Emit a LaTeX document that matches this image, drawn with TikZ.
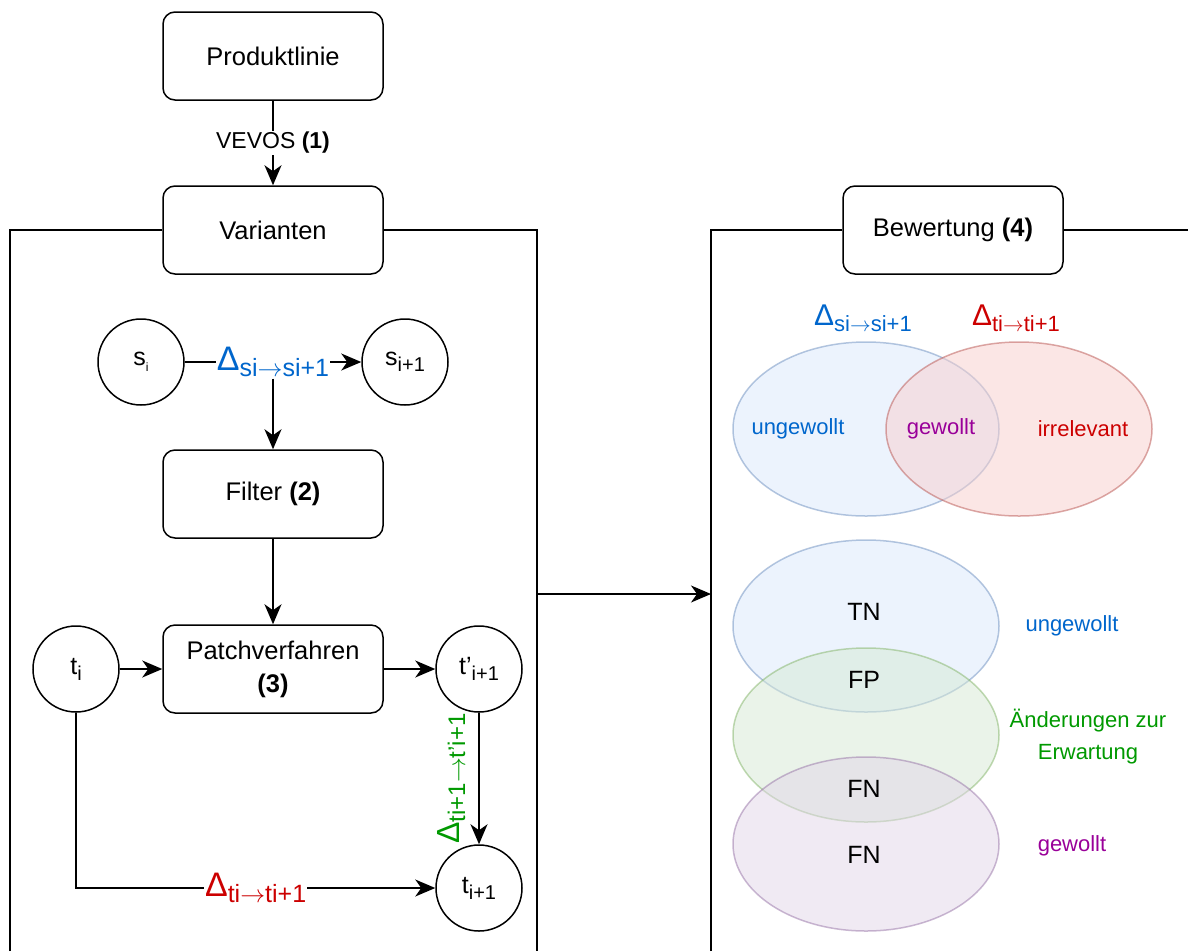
\documentclass[tikz,border=0pt]{standalone}
\usepackage{fontspec}
\setmainfont{Liberation Sans}
\usetikzlibrary{arrows.meta,positioning}

\definecolor{dblue}{HTML}{0066CC}
\definecolor{dred}{HTML}{CC0000}
\definecolor{dgreen}{HTML}{009900}
\definecolor{dpurple}{HTML}{990099}
\definecolor{vblue}{HTML}{DAE8FC}
\definecolor{vbluel}{HTML}{6C8EBF}
\definecolor{vred}{HTML}{F8CECC}
\definecolor{vredl}{HTML}{B85450}
\definecolor{vgreen}{HTML}{D5E8D4}
\definecolor{vgreenl}{HTML}{82B366}
\definecolor{vviolet}{HTML}{E1D5E7}
\definecolor{vvioletl}{HTML}{9673A6}

\newcommand{\pfeil}{$\rightarrow$}
\newcommand{\dlt}[3]{{\fontsize{#1}{#1}\selectfont Δ}\raisebox{-6pt}{\fontsize{#2}{#2}\selectfont #3}}
\newcommand{\vsub}[3]{#1\raisebox{-6pt}{\fontsize{#3}{#3}\selectfont #2}}

\tikzset{
  stepbox/.style={draw, line width=1.5pt, rounded corners=12pt, minimum width=220pt, minimum height=88pt, align=center, font=\fontsize{25.5}{33}\selectfont, fill=white},
  zustand/.style={draw, circle, line width=1.5pt, minimum size=86pt, inner sep=0pt, font=\fontsize{25}{28}\selectfont},
  flow/.style={line width=1.5pt, -{Stealth[length=20pt,width=17pt,inset=6pt]}},
  frame/.style={line width=1.5pt},
  lbl/.style={fill=white, inner sep=1pt},
  venn/.style={line width=1.5pt, opacity=0.5},
  vtext/.style={font=\fontsize{25}{30}\selectfont},
  ctext/.style={font=\fontsize{22}{32}\selectfont},
}

\begin{document}
\begin{tikzpicture}[x=1pt,y=-1pt]
\useasboundingbox (0,0) rectangle (1188,951);

% Varianten erzeugen
\node[stepbox] (produkt) at (273,56) {Produktlinie};
\node[stepbox] (varianten) at (273,230) {Varianten};
\draw[flow] (produkt) -- node[lbl, font=\fontsize{23}{28}\selectfont] {VEVOS \textbf{(1)}} (varianten);
\draw[frame] (10,951) -- (10,230) -- (varianten.west);
\draw[frame] (varianten.east) -- (537,230) -- (537,951);

\node[zustand] (si) at (141,362) {\vsub{s}{i}{12}};
\node[zustand] (snext) at (405,362) {\vsub{s}{i+1}{20}};
\draw[flow] (si) -- node[lbl, text=dblue] (dS) {\dlt{34}{25}{si\pfeil si+1}} (snext);

\node[stepbox] (filter) at (273,494) {Filter \textbf{(2)}};
\draw[flow] (dS.south) -- (filter);
\node[stepbox] (patch) at (273,669) {Patchverfahren\\\textbf{(3)}};
\draw[flow] (filter) -- (patch);

\node[zustand] (ti) at (76,669) {\vsub{t}{i}{20}};
\node[zustand] (tpnext) at (479,669) {\vsub{t'}{i+1}{20}};
\node[zustand] (tnext) at (479,888) {\vsub{t}{i+1}{20}};
\draw[flow] (ti) -- (patch);
\draw[flow] (patch) -- (tpnext);
\draw[flow] (tpnext) -- node[rotate=90, anchor=south, text=dgreen, inner sep=13pt] {\dlt{32}{24}{ti+1\pfeil t'i+1}} (tnext);
\draw[flow] (ti) |- node[lbl, pos=0.75, text=dred] {\dlt{34}{25}{ti\pfeil ti+1}} (tnext);

% Bewertung
\node[stepbox] (bewertung) at (953,230) {Bewertung \textbf{(4)}};
\draw[frame] (711,951) -- (711,230) -- (bewertung.west);
\draw[frame] (bewertung.east) -- (1188,230);
\coordinate (outL) at (537,594);
\coordinate (inR) at (711,594);
\draw[flow] (outL) -- (inR);

\fill[venn, draw=vbluel, fill=vblue] (866,429) ellipse [x radius=133, y radius=87];
\fill[venn, draw=vredl, fill=vred] (1019,429) ellipse [x radius=133, y radius=87];
\node[text=dblue] (dSv) at (863,318) {\dlt{30}{22}{si\pfeil si+1}};
\node[text=dred] (dTv) at (1016,318) {\dlt{30}{22}{ti\pfeil ti+1}};
\node[ctext, text=dblue] (ungew1) at (798,429) {ungewollt};
\node[ctext, text=dpurple] (gew1) at (941,429) {gewollt};
\node[ctext, text=dred] (irrel) at (1083,429) {irrelevant};

\fill[venn, draw=vbluel, fill=vblue] (866,626) ellipse [x radius=133, y radius=86];
\fill[venn, draw=vgreenl, fill=vgreen] (866,735) ellipse [x radius=133, y radius=87];
\fill[venn, draw=vvioletl, fill=vviolet] (866,844) ellipse [x radius=133, y radius=87];
\node[vtext] (tn) at (864,612) {TN};
\node[vtext] (fp) at (864,680) {FP};
\node[vtext] (fn1) at (864,789) {FN};
\node[vtext] (fn2) at (864,855) {FN};
\node[ctext, text=dblue] (ungew2) at (1072,626) {ungewollt};
\node[ctext, text=dgreen, align=center] (aend) at (1088,737) {Änderungen zur\\Erwartung};
\node[ctext, text=dpurple] (gew2) at (1072,846) {gewollt};
\end{tikzpicture}
\end{document}
